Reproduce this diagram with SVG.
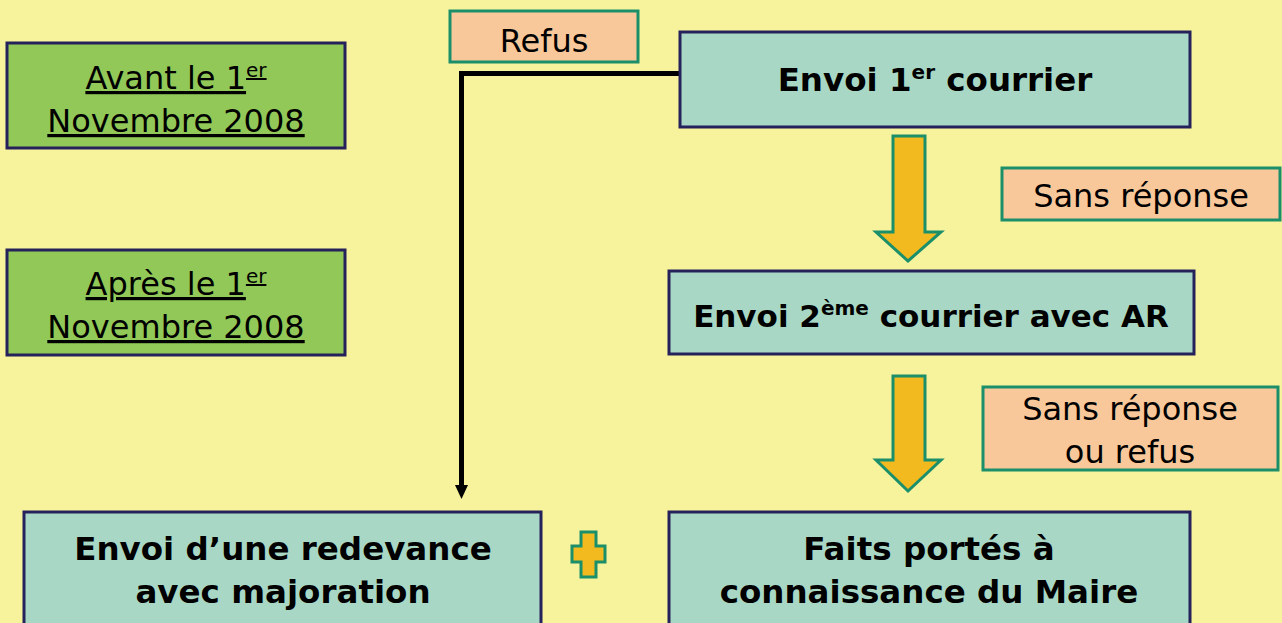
<svg xmlns="http://www.w3.org/2000/svg" width="1282" height="623" viewBox="0 0 1282 623">
<style>
.t{font-family:"DejaVu Sans",sans-serif;fill:#000;text-anchor:middle}
.r{font-size:32px}
.b{font-size:32.5px;font-weight:bold}
.b2{font-size:31px;font-weight:bold}
.u{text-decoration:underline}
.green{fill:#92C857;stroke:#25215A;stroke-width:3}
.teal{fill:#A8D8C5;stroke:#25215A;stroke-width:3}
.lab{fill:#F8C89A;stroke:#1A8F6A;stroke-width:3}
.yarr{fill:#F2BA1F;stroke:#1A8F6A;stroke-width:3;stroke-linejoin:miter}
.sup{font-size:20px}
</style>
<rect width="1282" height="623" fill="#F7F29C"/>
<g id="connectors">
<path d="M679,73.5 H461.5 V486" fill="none" stroke="#000" stroke-width="5"/>
<path d="M455,485 L468,485 L461.5,499 Z" fill="#000"/>
<polygon class="yarr" points="893,136 925,136 925,232 941,232 908,261 876,232 893,232"/>
<polygon class="yarr" points="893,376 925,376 925,460 941,460 908,491 876,460 893,460"/>
</g>
<g id="avant">
<rect class="green" x="7" y="43" width="338" height="105"/>
<text class="t r u" x="176" y="89">Avant le 1<tspan class="sup" dy="-12">er</tspan></text>
<text class="t r u" x="176" y="132">Novembre 2008</text>
</g>
<g id="apres">
<rect class="green" x="7" y="250" width="338" height="105"/>
<text class="t r u" x="176" y="295">Après le 1<tspan class="sup" dy="-12">er</tspan></text>
<text class="t r u" x="176" y="338">Novembre 2008</text>
</g>
<g id="refus">
<rect class="lab" x="450" y="11" width="188" height="51"/>
<text class="t r" x="544" y="52">Refus</text>
</g>
<g id="envoi1">
<rect class="teal" x="680" y="32" width="510" height="95"/>
<text class="t b" x="935" y="91">Envoi 1<tspan class="sup" dy="-12">er</tspan><tspan dy="12"> courrier</tspan></text>
</g>
<g id="sansreponse1">
<rect class="lab" x="1002" y="168" width="278" height="52"/>
<text class="t r" x="1141" y="207">Sans réponse</text>
</g>
<g id="envoi2">
<rect class="teal" x="669" y="271" width="525" height="83"/>
<text class="t b2" x="931" y="327">Envoi 2<tspan class="sup" dy="-12">ème</tspan><tspan dy="12"> courrier avec AR</tspan></text>
</g>
<g id="sansreponse2">
<rect class="lab" x="983" y="387" width="295" height="83"/>
<text class="t r" x="1130" y="420">Sans réponse</text>
<text class="t r" x="1130" y="463">ou refus</text>
</g>
<g id="redevance">
<rect class="teal" x="24" y="512" width="517" height="120"/>
<text class="t b" x="283" y="560">Envoi d’une redevance</text>
<text class="t b" x="283" y="603">avec majoration</text>
</g>
<g id="plus">
<polygon class="yarr" points="581,532 596,532 596,546 605,546 605,562 596,562 596,577 581,577 581,562 572,562 572,546 581,546"/>
</g>
<g id="faits">
<rect class="teal" x="669" y="512" width="521" height="120"/>
<text class="t b" x="929" y="560">Faits portés à</text>
<text class="t b" x="929" y="603">connaissance du Maire</text>
</g>
</svg>
